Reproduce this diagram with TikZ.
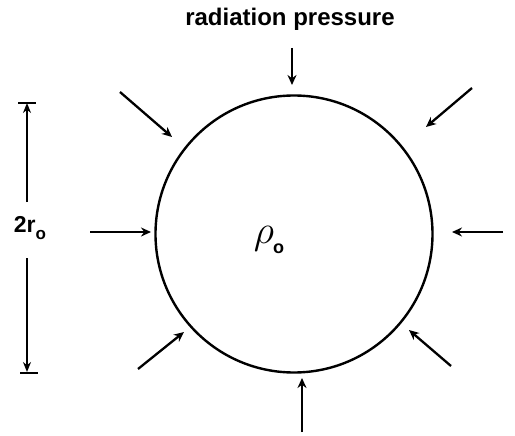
\documentclass[tikz,border=0pt]{standalone}
\usepackage{fontspec}
\setsansfont{Liberation Sans}
\usetikzlibrary{arrows.meta}
\begin{document}
\begin{tikzpicture}[x=1pt,y=-1pt,
  press/.style={line width=2.3pt,-{Stealth[length=10pt,width=9pt]}},
  dimline/.style={line width=2.3pt,-{Stealth[length=10pt,width=8pt]}},
  barline/.style={line width=2.5pt},
  lbl/.style={font=\sffamily\bfseries\fontsize{24}{28}\selectfont, inner sep=0pt}]
\useasboundingbox (0,0) rectangle (515,436);
\node[circle, draw, line width=2.4pt, minimum size=277pt, inner sep=0pt] (ball) at (294,234) {};
\node[inner sep=0pt] (rho) at (269,240) {\scalebox{1.6}{\fontsize{24}{28}\selectfont$\rho$}\hspace{-1pt}\raisebox{-10pt}{\sffamily\bfseries\fontsize{18}{20}\selectfont o}};
\node[lbl] (title) at (290,19) {radiation pressure};
% arrows
\coordinate (t0) at (292,48);  \coordinate (t1) at (292,85);
\coordinate (b0) at (302,432); \coordinate (b1) at (302,378);
\coordinate (l0) at (90,232);  \coordinate (l1) at (151,232);
\coordinate (r0) at (503,232); \coordinate (r1) at (452,232);
\coordinate (tl0) at (120,92); \coordinate (tl1) at (172,137);
\coordinate (tr0) at (472,88); \coordinate (tr1) at (426,127);
\coordinate (br0) at (451,366); \coordinate (br1) at (409,330);
\coordinate (bl0) at (138,369); \coordinate (bl1) at (184,332);
\draw[press] (t0) -- (t1);
\draw[press] (b0) -- (b1);
\draw[press] (l0) -- (l1);
\draw[press] (r0) -- (r1);
\draw[press] (tl0) -- (tl1);
\draw[press] (tr0) -- (tr1);
\draw[press] (br0) -- (br1);
\draw[press] (bl0) -- (bl1);
% dimension
\node[font=\sffamily\bfseries\fontsize{23}{26}\selectfont, inner sep=0pt] (dim) at (30,228) {2r\raisebox{-7pt}{\fontsize{17}{18}\selectfont o}};
\coordinate (dtop) at (27,103); \coordinate (dbot) at (27,372);
\coordinate (dtl) at (18,103); \coordinate (dtr) at (36,103);
\coordinate (dbl) at (20,373); \coordinate (dbr) at (38,373);
\draw[dimline] (27,202) -- (dtop);
\draw[dimline] (27,258) -- (dbot);
\draw[barline] (dtl) -- (dtr);
\draw[barline] (dbl) -- (dbr);
\end{tikzpicture}
\end{document}
